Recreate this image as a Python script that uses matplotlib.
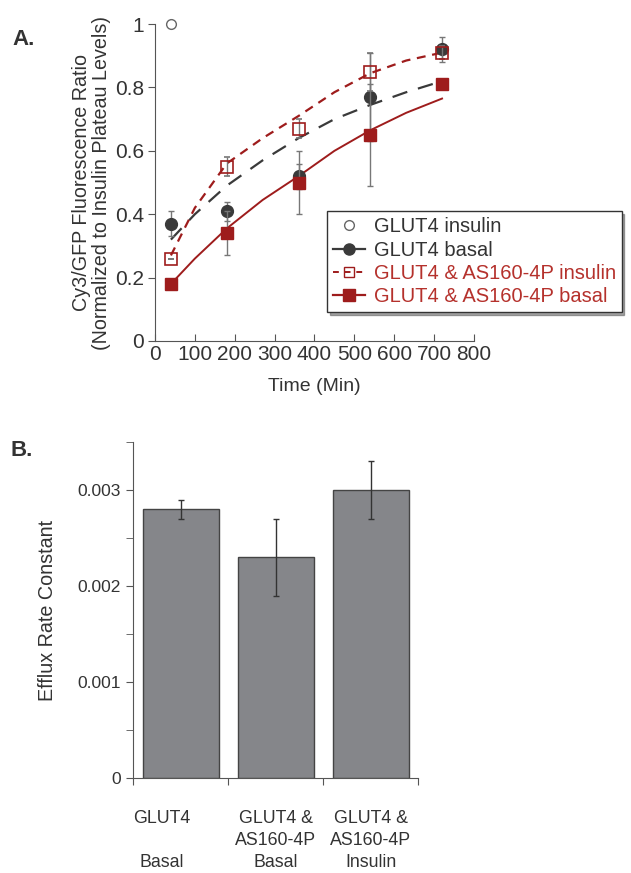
import numpy as np
import matplotlib.pyplot as plt
from matplotlib.lines import Line2D

plt.rcParams['font.family'] = ['Liberation Sans', 'DejaVu Sans']

# ---- panel A data ----
times = [40, 180, 360, 540, 720]
glut4_ins_t = [40]
glut4_ins = [1.0]
glut4_bas = [0.37, 0.41, 0.52, 0.77, 0.92]
glut4_bas_err = [0.04, 0.03, 0.04, 0.14, 0.04]
as160_ins = [0.26, 0.55, 0.67, 0.85, 0.91]
as160_ins_err = [0.0, 0.03, 0.03, 0.06, 0.02]
as160_bas = [0.18, 0.34, 0.50, 0.65, 0.81]
as160_bas_err = [0.0, 0.07, 0.10, 0.16, 0.0]

# fitted curves
fit_t = [40, 100, 180, 270, 360, 450, 540, 630, 720]
fit_glut4_bas = [0.32, 0.40, 0.49, 0.57, 0.64, 0.70, 0.745, 0.785, 0.82]
fit_as160_ins = [0.27, 0.42, 0.56, 0.64, 0.71, 0.785, 0.845, 0.885, 0.91]
fit_as160_bas = [0.18, 0.26, 0.355, 0.445, 0.52, 0.60, 0.665, 0.72, 0.765]

# ---- panel B data ----
groups = ['GLUT4\n\nBasal', 'GLUT4 &\nAS160-4P\nBasal', 'GLUT4 &\nAS160-4P\nInsulin']
rates = [0.0028, 0.0023, 0.0030]
rates_err = [0.0001, 0.0004, 0.0003]

gray = '#3a3a3a'
axis_gray = '#555555'
txt = '#333333'
red = '#9e1c1c'
red_txt = '#b5312c'

fig = plt.figure(figsize=(6.31, 8.73), dpi=100)

axA = fig.add_axes([0.2456, 0.6094, 0.5055, 0.363])
axA.plot(fit_t, fit_glut4_bas, color=gray, lw=1.6, dashes=(7, 5), zorder=2)
axA.plot(fit_t, fit_as160_ins, color=red, lw=1.6, dashes=(4, 3), zorder=2)
axA.plot(fit_t, fit_as160_bas, color=red, lw=1.4, zorder=2)
axA.errorbar(times, glut4_bas, yerr=glut4_bas_err, fmt='o', color=gray, ms=8.5,
             ecolor='#777777', elinewidth=1, capsize=2, zorder=3)
axA.errorbar(times, as160_bas, yerr=as160_bas_err, fmt='s', color=red, ms=8,
             ecolor='#777777', elinewidth=1, capsize=2, zorder=4)
axA.errorbar(times, as160_ins, yerr=as160_ins_err, fmt='s', mfc='none', mec=red,
             ms=8, mew=1.2, ecolor='#777777', elinewidth=1, capsize=2, zorder=5)
axA.plot(glut4_ins_t, glut4_ins, 'o', mfc='none', mec='#666666', ms=7, mew=1, clip_on=False)

axA.set_xlim(0, 800)
axA.set_ylim(0, 1)
axA.set_xticks(range(0, 801, 100))
axA.set_yticks([0, 0.2, 0.4, 0.6, 0.8, 1])
axA.set_yticklabels(['0', '0.2', '0.4', '0.6', '0.8', '1'])
for s in ['top', 'right']:
    axA.spines[s].set_visible(False)
for s in ['left', 'bottom']:
    axA.spines[s].set_color(axis_gray)
axA.tick_params(axis='x', direction='in', length=5, color=axis_gray, labelsize=15,
                labelcolor=txt, pad=3)
axA.tick_params(axis='y', direction='out', length=5, color=axis_gray, labelsize=15,
                labelcolor=txt, pad=3)
axA.set_xlabel('Time (Min)', fontsize=14, color=txt, labelpad=10)
axA.set_ylabel('Cy3/GFP Fluorescence Ratio\n(Normalized to Insulin Plateau Levels)',
               fontsize=14.2, color=txt, labelpad=3, linespacing=1.05)

handles = [
    Line2D([], [], ls='none', marker='o', mfc='none', mec='#666666', ms=7),
    Line2D([], [], color=gray, lw=1.6, marker='o', ms=8),
    Line2D([], [], color=red, lw=1.4, dashes=(3, 3), marker='s', mfc='none', mec=red, ms=7),
    Line2D([], [], color=red, lw=1.6, marker='s', ms=8),
]
labels = ['GLUT4 insulin', 'GLUT4 basal', 'GLUT4 & AS160-4P insulin', 'GLUT4 & AS160-4P basal']
leg = axA.legend(handles, labels, loc='lower left', bbox_to_anchor=(0.54, 0.09),
                 fontsize=14.5, frameon=True, shadow=True, fancybox=False,
                 handlelength=1.6, handletextpad=0.4, labelspacing=0.22,
                 borderpad=0.3, borderaxespad=0)
leg.get_frame().set_edgecolor(txt)
for t, c in zip(leg.get_texts(), [txt, txt, red_txt, red_txt]):
    t.set_color(c)

fig.text(0.02, 0.948, 'A.', fontsize=16, fontweight='bold', color=txt)

axB = fig.add_axes([0.2108, 0.1088, 0.4517, 0.385])
x = np.arange(len(groups))
axB.bar(x, rates, width=0.8, color='#85868a', edgecolor='#444444', lw=1)
axB.errorbar(x, rates, yerr=rates_err, fmt='none', ecolor=txt, elinewidth=1, capsize=2)
axB.set_xlim(-0.5, 2.5)
axB.set_ylim(0, 0.0035)
axB.set_yticks([0, 0.001, 0.002, 0.003])
axB.set_yticklabels(['0', '0.001', '0.002', '0.003'])
axB.set_yticks([0.0005, 0.0015, 0.0025, 0.0035], minor=True)
axB.set_xticks([-0.5, 0.5, 1.5, 2.5])
axB.set_xticklabels([])
for i, g in enumerate(groups):
    axB.text(i - (0.2 if i == 0 else 0), -0.00033, g, ha='center', va='top', fontsize=12.8,
             color=txt, linespacing=1.38)
for s in ['top', 'right']:
    axB.spines[s].set_visible(False)
for s in ['left', 'bottom']:
    axB.spines[s].set_color(axis_gray)
axB.tick_params(axis='y', which='both', direction='out', length=5, color=axis_gray,
                labelsize=12.5, labelcolor=txt)
axB.tick_params(axis='x', direction='out', length=5, color=axis_gray)
axB.set_ylabel('Efflux Rate Constant', fontsize=14.2, color=txt, labelpad=15)

fig.text(0.016, 0.478, 'B.', fontsize=16, fontweight='bold', color=txt)

fig.savefig('out.png', dpi=100)
